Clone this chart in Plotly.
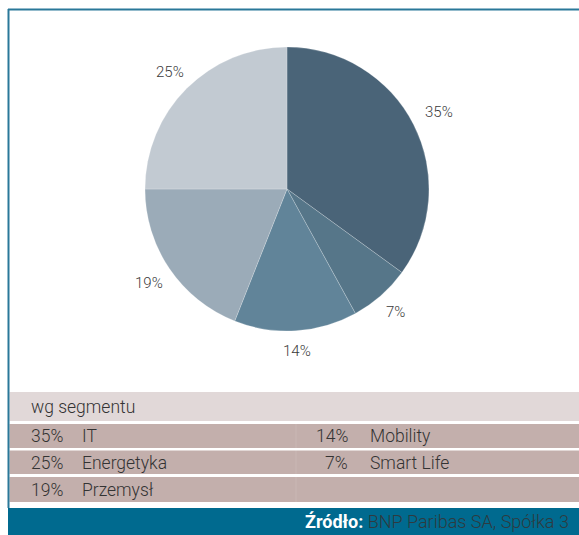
import math
import plotly.graph_objects as go

# ---- data ----
categories = ["IT", "Smart Life", "Mobility", "Przemysł", "Energetyka"]
values = [35, 7, 14, 19, 25]
slice_colors = ["#4a6478", "#567689", "#618499", "#9babb8", "#c2cad2"]
table_title = "wg segmentu"
source_label = "Źródło:"
source_text = "BNP Paribas SA, Spółka 3"

W, H = 579, 535


def px(x):
    return x / W


def py(y):
    return 1 - y / H


# pie geometry (pixels)
CX, CY, R = 287, 189, 142

fig = go.Figure()
fig.add_trace(go.Pie(
    labels=categories,
    values=values,
    sort=False,
    direction="clockwise",
    rotation=0,
    marker=dict(colors=slice_colors, line=dict(color="rgba(255,255,255,0.35)", width=0.6)),
    textinfo="none",
    hoverinfo="label+percent",
    showlegend=False,
    domain=dict(x=[px(CX - R), px(CX + R)], y=[py(CY + R), py(CY - R)]),
))

shapes = []
annotations = []

# outside percentage labels positioned from the slice mid-angles
total = sum(values)
cum = 0
lab_font = dict(family="Roboto", size=15, color="#3a3a3a", weight=300)
hw, hh, gap = 14, 7, 13
for v in values:
    mid = (cum + v / 2) / total
    cum += v
    ang = math.pi / 2 - 2 * math.pi * mid
    ux, uy = math.cos(ang), math.sin(ang)
    t = min(hw / abs(ux) if abs(ux) > 1e-6 else 1e9, hh / abs(uy) if abs(uy) > 1e-6 else 1e9)
    r = R + gap + t
    x = CX + r * ux
    y = CY - r * uy
    annotations.append(dict(x=px(x), y=py(y), xref="paper", yref="paper", text=f"{v}%",
                            showarrow=False, xanchor="center", yanchor="middle", font=lab_font))

# frame lines
shapes.append(dict(type="line", xref="paper", yref="paper", x0=px(8), x1=px(579), y0=py(9.5), y1=py(9.5),
                   line=dict(color="#2a7899", width=2)))
shapes.append(dict(type="line", xref="paper", yref="paper", x0=px(8.5), x1=px(8.5), y0=py(9), y1=py(508),
                   line=dict(color="#2a7899", width=2)))

# table bands
bands = [(392, 421, "#e1d8d8"), (424, 448, "#c3afac"), (450.5, 474, "#c3afac"), (477, 502, "#c3afac")]
for y0, y1, c in bands:
    shapes.append(dict(type="rect", xref="paper", yref="paper", x0=px(9.5), x1=px(579), y0=py(y1), y1=py(y0),
                       fillcolor=c, line=dict(width=0), layer="below"))
# faint column separator
shapes.append(dict(type="line", xref="paper", yref="paper", x0=px(296), x1=px(296), y0=py(502), y1=py(424),
                   line=dict(color="rgba(255,255,255,0.1)", width=1)))
# footer band
shapes.append(dict(type="rect", xref="paper", yref="paper", x0=px(8), x1=px(579), y0=py(535), y1=py(508),
                   fillcolor="#006a8f", line=dict(width=0)))

font_t = dict(family="Roboto", size=17.5, color="#333333", weight=300)

annotations.append(dict(x=px(29), y=py(407), xref="paper", yref="paper", text=table_title,
                        showarrow=False, xanchor="left", yanchor="middle", font=font_t))

# table entries sorted descending, filled column-wise (3 rows per column)
order = sorted(range(len(values)), key=lambda i: -values[i])
row_centers = [436, 462.5, 489.5]
for k, i in enumerate(order):
    col, row = divmod(k, 3)
    yc = py(row_centers[row])
    if col == 0:
        annotations.append(dict(x=px(29), y=yc, xref="paper", yref="paper", text=f"{values[i]}%",
                                showarrow=False, xanchor="left", yanchor="middle", font=font_t))
        annotations.append(dict(x=px(80), y=yc, xref="paper", yref="paper", text=categories[i],
                                showarrow=False, xanchor="left", yanchor="middle", font=font_t))
    else:
        annotations.append(dict(x=px(350), y=yc, xref="paper", yref="paper", text=f"{values[i]}%",
                                showarrow=False, xanchor="right", yanchor="middle", font=font_t))
        annotations.append(dict(x=px(368), y=yc, xref="paper", yref="paper", text=categories[i],
                                showarrow=False, xanchor="left", yanchor="middle", font=font_t))

annotations.append(dict(x=px(571), y=py(521.5), xref="paper", yref="paper",
                        text=f"<b><span style='color:#ffffff'>{source_label}</span></b> {source_text}",
                        showarrow=False, xanchor="right", yanchor="middle",
                        font=dict(family="Roboto", size=18, color="#2e3a40", weight=300)))

fig.update_layout(
    width=W, height=H,
    margin=dict(l=0, r=0, t=0, b=0),
    paper_bgcolor="#ffffff",
    plot_bgcolor="#ffffff",
    shapes=shapes,
    annotations=annotations,
)

fig.write_html("out.html", config={"displayModeBar": False},
               post_script="document.body.style.margin='0px';document.body.style.overflow='hidden';")
